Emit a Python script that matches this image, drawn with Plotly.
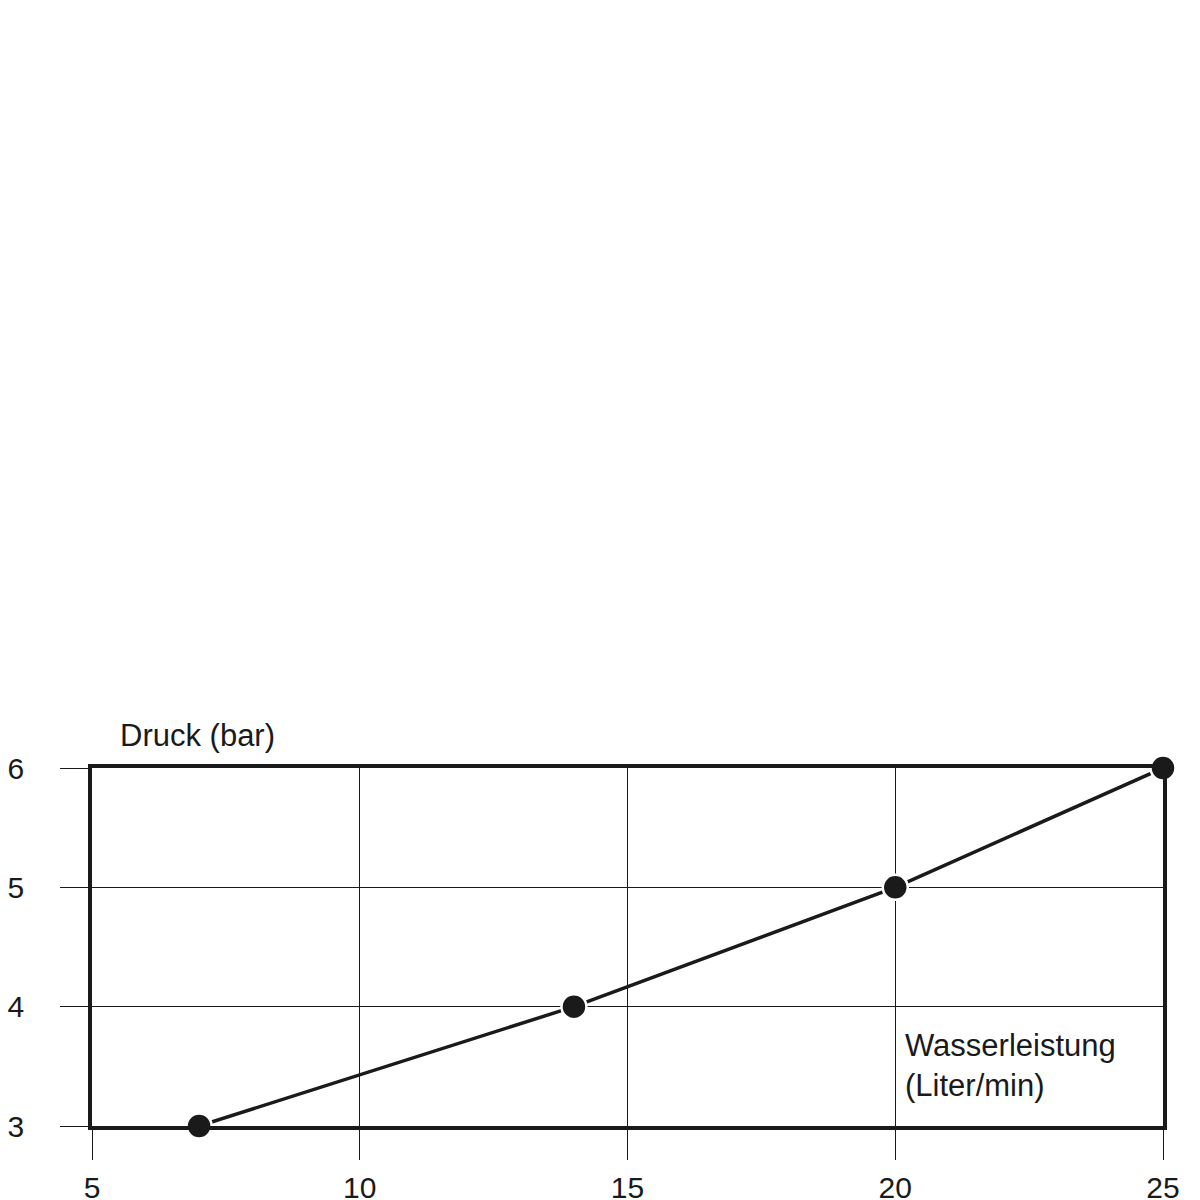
import plotly.graph_objects as go

flow = [7, 14, 20, 25]
pressure = [3, 4, 5, 6]
x_ticks = [5, 10, 15, 20, 25]
y_ticks = [3, 4, 5, 6]

fig = go.Figure()
fig.add_trace(go.Scatter(x=flow, y=pressure, mode="lines+markers",
    line=dict(color="#1a1a1a", width=3.5),
    marker=dict(size=25, color="#1a1a1a", line=dict(color="white", width=2.5)),
    cliponaxis=False, showlegend=False))

fig.update_layout(
    width=1200, height=1200, plot_bgcolor="white", paper_bgcolor="white",
    margin=dict(l=84, r=45, t=760, b=82),
    font=dict(family="Liberation Sans, Arial, sans-serif", size=30, color="#1a1a1a"),
    xaxis=dict(range=[5, 25], tickvals=x_ticks, showgrid=True, gridcolor="#1a1a1a", gridwidth=1.2,
               showline=True, linecolor="#1a1a1a", linewidth=3.5, mirror=True, zeroline=False,
               automargin=False,
               ticks="outside", ticklen=30, tickwidth=1.2, tickcolor="#1a1a1a", ticklabelstandoff=2),
    yaxis=dict(range=[3, 6], tickvals=y_ticks, showgrid=True, gridcolor="#1a1a1a", gridwidth=1.2,
               showline=True, linecolor="#1a1a1a", linewidth=3.5, mirror=True, zeroline=False,
               automargin=False,
               ticks="outside", ticklen=28, tickwidth=1.2, tickcolor="#1a1a1a", ticklabelstandoff=30),
    annotations=[
        dict(text="Druck (bar)", xref="paper", yref="paper", x=0.024, y=1.035, xanchor="left", yanchor="bottom",
             showarrow=False, font=dict(size=31)),
        dict(text="Wasserleistung<br>(Liter/min)", xref="paper", yref="paper", x=0.757, y=0.06,
             xanchor="left", yanchor="bottom", align="left", showarrow=False, font=dict(size=31)),
    ],
)
fig.write_html("out.html")
